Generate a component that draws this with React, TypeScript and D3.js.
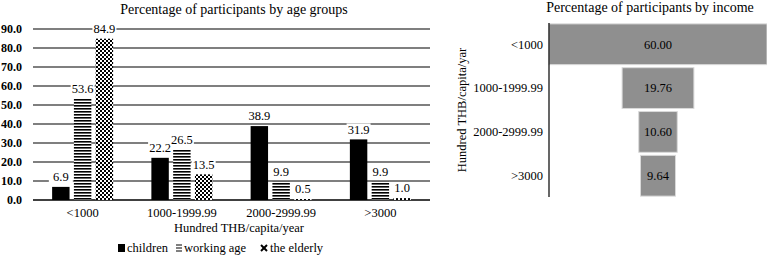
import React from "react";
import * as d3 from "d3";

const ageCategories = ["<1000", "1000-1999.99", "2000-2999.99", ">3000"];
const seriesNames = ["children", "working age", "the elderly"];
const children = [6.9, 22.2, 38.9, 31.9];
const workingAge = [53.6, 26.5, 9.9, 9.9];
const elderly = [84.9, 13.5, 0.5, 1.0];
const yTicks = [0, 10, 20, 30, 40, 50, 60, 70, 80, 90];

const incomeCategories = ["<1000", "1000-1999.99", "2000-2999.99", ">3000"];
const incomeValues = [60.0, 19.76, 10.6, 9.64];

const FONT = "'Liberation Serif', 'Times New Roman', serif";

export default function App() {
  const W = 767, H = 265;
  const x0 = d3.scaleBand<string>().domain(ageCategories).range([33, 430]).paddingInner(0).paddingOuter(0);
  const groupW = 61;
  const x1 = d3.scaleBand<string>().domain(seriesNames).range([0, groupW]).paddingInner(0.2).paddingOuter(0);
  const y = d3.scaleLinear().domain([0, 90]).range([200, 29]);
  const series = [children, workingAge, elderly];
  const fills = ["#000", "url(#stripes)", "url(#checker)"];

  const yb = d3.scaleBand<string>().domain(incomeCategories).range([23, 197]).paddingInner(0.07).paddingOuter(0.02);
  const xw = d3.scaleLinear().domain([0, 60]).range([0, 218]);
  const cx = 658;

  return (
    <svg width={W} height={H} style={{ position: "absolute", left: 0, top: 0, fontFamily: FONT }}>
      <defs>
        <pattern id="stripes" width="4" height="3" patternUnits="userSpaceOnUse">
          <rect width="4" height="3" fill="#fff" />
          <rect width="4" height="1.6" fill="#000" />
        </pattern>
        <pattern id="checker" width="4" height="4" patternUnits="userSpaceOnUse">
          <rect width="4" height="4" fill="#000" />
          <rect x="0" y="0" width="2" height="2" fill="#fff" />
          <rect x="2" y="2" width="2" height="2" fill="#fff" />
        </pattern>
      </defs>
      <rect width={W} height={H} fill="#fff" />

      {/* Left chart */}
      <text x={234} y={14} textAnchor="middle" fontSize={14} fill="#000">Percentage of participants by age groups</text>
      {yTicks.map((t) => (
        <g key={t}>
          <line x1={33} x2={430} y1={y(t)} y2={y(t)} stroke="#000" strokeWidth={t === 0 ? 1.6 : 1.2} />
          <text x={22} y={y(t)} dy="0.35em" textAnchor="end" fontSize={12} fontWeight="bold">{t.toFixed(1)}</text>
        </g>
      ))}
      {ageCategories.map((c, i) => {
        const gx = x0(c)! + (x0.bandwidth() - groupW) / 2;
        return (
          <g key={c}>
            {series.map((s, j) => {
              const bx = gx + x1(seriesNames[j])!;
              const v = s[i];
              return (
                <rect key={j} x={bx} y={y(v)} width={x1.bandwidth()} height={200 - y(v)} fill={fills[j]} />
              );
            })}
            <text x={x0(c)! + x0.bandwidth() / 2} y={213} dy="0.35em" textAnchor="middle" fontSize={12.5}>{c}</text>
          </g>
        );
      })}
      {ageCategories.map((c, i) => {
        const gx = x0(c)! + (x0.bandwidth() - groupW) / 2;
        return series.map((s, j) => {
          const bx = gx + x1(seriesNames[j])! + x1.bandwidth() / 2;
          const v = s[i];
          const lbl = v.toFixed(1);
          const ty = y(v) - 10;
          return (
            <g key={c + j}>
              <rect x={bx - 12} y={ty - 6} width={24} height={12} fill="#fff" />
              <text x={bx} y={ty} dy="0.35em" textAnchor="middle" fontSize={12.5}>{lbl}</text>
            </g>
          );
        });
      })}
      <text x={239} y={228} dy="0.35em" textAnchor="middle" fontSize={12.5}>Hundred THB/capita/year</text>
      {/* legend */}
      <g fontSize={12.5}>
        <rect x={118} y={244} width={7} height={8} fill="#000" />
        <text x={127} y={248} dy="0.35em">children</text>
        <g stroke="#000" strokeWidth={1}>
          <line x1={176} x2={182} y1={245} y2={245} />
          <line x1={176} x2={182} y1={248} y2={248} />
          <line x1={176} x2={182} y1={251} y2={251} />
        </g>
        <text x={184} y={248} dy="0.35em">working age</text>
        <g stroke="#000" strokeWidth={2}>
          <line x1={261} x2={267} y1={245} y2={251} />
          <line x1={267} x2={261} y1={245} y2={251} />
        </g>
        <text x={270} y={248} dy="0.35em">the elderly</text>
      </g>

      {/* Right chart */}
      <text x={650} y={12} textAnchor="middle" fontSize={14}>Percentage of participants by income</text>
      {incomeCategories.map((c, i) => {
        const w = xw(incomeValues[i]);
        const by = yb(c)!;
        const bh = yb.bandwidth();
        return (
          <g key={c}>
            <rect x={cx - w / 2} y={by} width={w} height={bh} fill="#8f8f8f" stroke="#d9d9d9" strokeWidth={1} />
            <text x={cx} y={by + bh / 2} dy="0.35em" textAnchor="middle" fontSize={12.5}>{incomeValues[i].toFixed(2)}</text>
            <text x={543} y={by + bh / 2} dy="0.35em" textAnchor="end" fontSize={12.5}>{c}</text>
          </g>
        );
      })}
      <line x1={549} x2={549} y1={23} y2={197} stroke="#000" strokeWidth={1.2} />
      <text transform={`translate(462,110) rotate(-90)`} textAnchor="middle" dy="0.35em" fontSize={12.5}>Hundred THB/capita/yar</text>
    </svg>
  );
}
